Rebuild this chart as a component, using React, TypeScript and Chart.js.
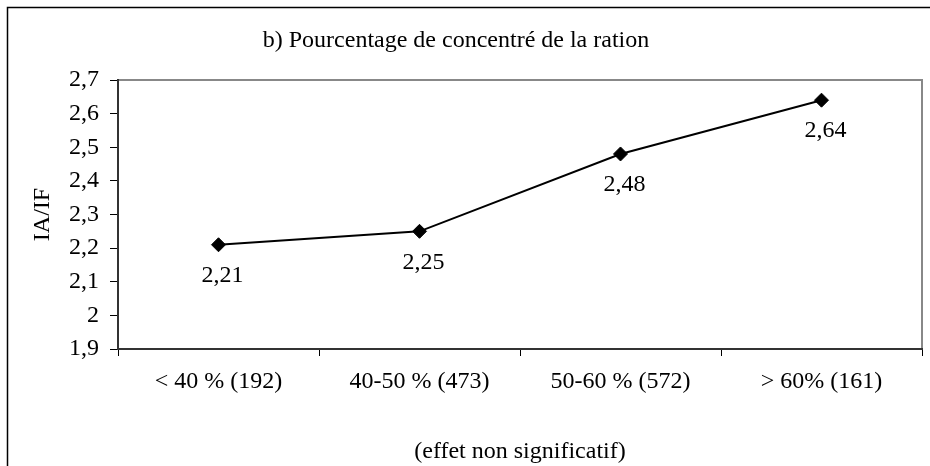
import React, { useEffect, useRef } from "react";
import { Chart, registerables } from "chart.js";

Chart.register(...registerables);

const categories = ["< 40 % (192)", "40-50 % (473)", "50-60 % (572)", "> 60% (161)"];
const values = [2.21, 2.25, 2.48, 2.64];
const valueLabels = ["2,21", "2,25", "2,48", "2,64"];
const chartTitle = "b) Pourcentage de concentré de la ration";
const yTitle = "IA/IF";
const xTitle = "(effet non significatif)";
const yMin = 1.9;
const yMax = 2.7;
const yStep = 0.1;

const FONT = "'Liberation Serif', 'Times New Roman', serif";

const decorPlugin = {
  id: "decor",
  beforeDraw(chart: any) {
    const ctx = chart.ctx;
    const a = chart.chartArea;
    ctx.save();
    // outer frame (left & top visible)
    ctx.strokeStyle = "#000";
    ctx.lineWidth = 1.5;
    ctx.beginPath();
    ctx.moveTo(7.5, chart.height + 2);
    ctx.lineTo(7.5, 7.5);
    ctx.lineTo(chart.width + 2, 7.5);
    ctx.stroke();
    // plot area top/right border
    ctx.strokeStyle = "#888";
    ctx.lineWidth = 2;
    ctx.beginPath();
    ctx.moveTo(a.left, a.top);
    ctx.lineTo(a.right, a.top);
    ctx.lineTo(a.right, a.bottom);
    ctx.stroke();
    // title
    ctx.fillStyle = "#000";
    ctx.font = `24px ${FONT}`;
    ctx.textAlign = "center";
    ctx.textBaseline = "alphabetic";
    ctx.fillText(chartTitle, 456, 47);
    ctx.restore();
  },
  afterDatasetsDraw(chart: any) {
    const ctx = chart.ctx;
    const meta = chart.getDatasetMeta(0);
    ctx.save();
    ctx.fillStyle = "#000";
    ctx.font = `24px ${FONT}`;
    ctx.textAlign = "center";
    ctx.textBaseline = "middle";
    meta.data.forEach((pt: any, i: number) => {
      ctx.fillText(valueLabels[i], pt.x + 4, pt.y + 31);
    });
    ctx.restore();
  },
};

export default function App() {
  const ref = useRef<HTMLCanvasElement>(null);
  useEffect(() => {
    document.body.style.margin = "0";
    const canvas = ref.current!;
    const chart = new Chart(canvas, {
      type: "line",
      data: {
        labels: categories,
        datasets: [
          {
            data: values,
            borderColor: "#000",
            backgroundColor: "#000",
            borderWidth: 2,
            pointStyle: "rectRot",
            pointRadius: 7,
            pointBackgroundColor: "#000",
            pointBorderColor: "#000",
            pointBorderWidth: 1,
            tension: 0,
          },
        ],
      },
      options: {
        animation: false,
        responsive: false,
        maintainAspectRatio: false,
        layout: { padding: { top: 80, right: 5, bottom: 0, left: 0 } },
        plugins: {
          legend: { display: false },
          tooltip: { enabled: false },
          title: { display: false },
        },
        scales: {
          x: {
            offset: true,
            grid: {
              display: true,
              offset: true,
              drawOnChartArea: false,
              drawTicks: true,
              tickLength: 7,
              color: "#000",
              lineWidth: 1,
            },
            border: { display: true, color: "#333", width: 2 },
            ticks: {
              color: "#000",
              font: { family: FONT, size: 24 },
              padding: 11,
              maxRotation: 0,
              autoSkip: false,
            },
            title: {
              display: true,
              text: xTitle,
              color: "#000",
              font: { family: FONT, size: 24 },
              padding: { top: 6, bottom: 0 },
            },
            afterFit(scale: any) {
              scale.height = 117;
            },
          },
          y: {
            min: yMin,
            max: yMax,
            grid: {
              display: true,
              drawOnChartArea: false,
              drawTicks: true,
              tickLength: 8,
              color: "#000",
              lineWidth: 1,
            },
            border: { display: true, color: "#333", width: 2 },
            ticks: {
              stepSize: yStep,
              color: "#000",
              font: { family: FONT, size: 24 },
              padding: 11,
              callback: (v: any) => String(Number(Number(v).toFixed(1))).replace(".", ","),
            },
            title: {
              display: true,
              text: yTitle,
              color: "#000",
              font: { family: FONT, size: 24 },
              padding: { top: 28, bottom: 0 },
            },
            afterFit(scale: any) {
              scale.width = 118;
            },
          },
        },
      },
      plugins: [decorPlugin],
    } as any);
    return () => chart.destroy();
  }, []);
  return <canvas ref={ref} width={930} height={466} style={{ display: "block" }} />;
}
